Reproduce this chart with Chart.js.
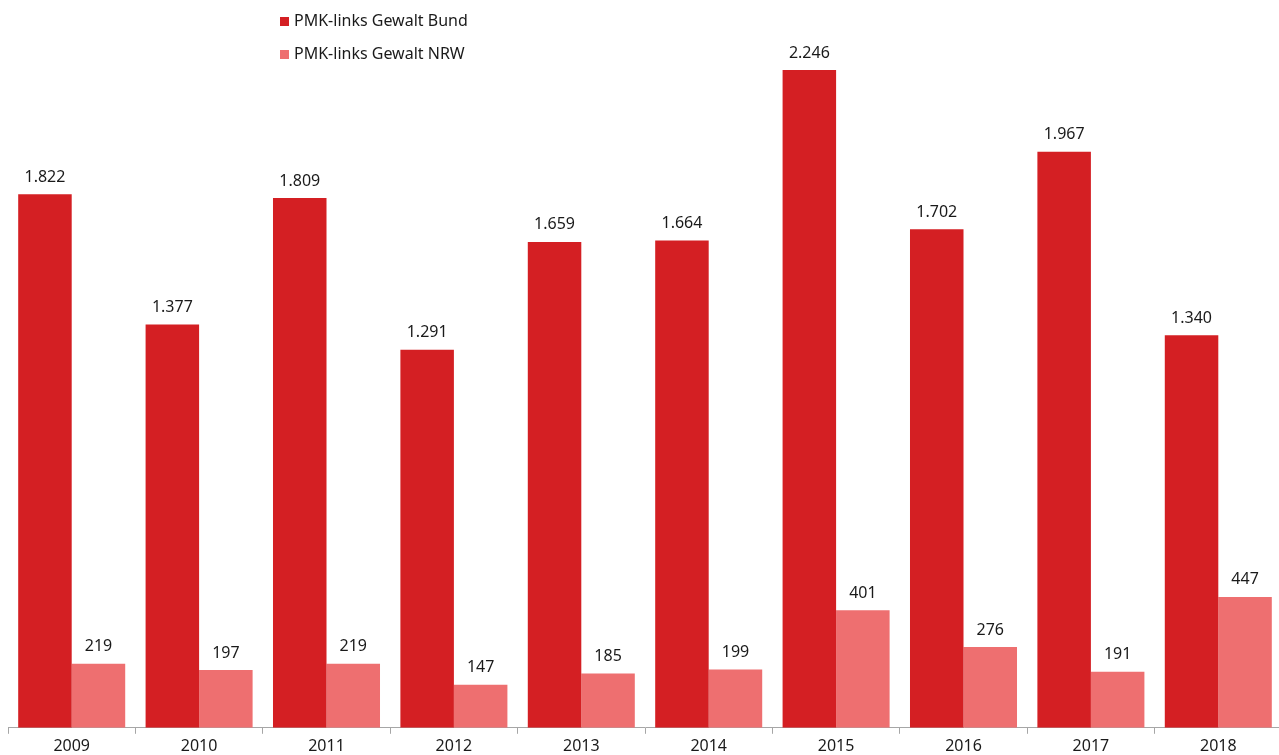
<!DOCTYPE html>
<html>
<head>
<meta charset="utf-8">
<script src="https://cdn.jsdelivr.net/npm/chart.js@4.4.1/dist/chart.umd.min.js"></script>
<style>
    html, body { margin: 0; padding: 0; background: #fff; }
    #wrap { position: relative; width: 1279px; height: 755px; overflow: hidden; }
    #legend { position: absolute; left: 280px; top: 10px; font-family: "Noto Sans", sans-serif; font-size: 16px; color: #1a1a1a; }
    #legend div { height: 21px; line-height: 21px; margin-bottom: 12px; }
    #legend span { display: inline-block; width: 9px; height: 9px; margin-right: 5px; vertical-align: 0px; }
</style>
</head>
<body>
<div id="wrap">
    <canvas id="chart" width="1284" height="755"></canvas>
    <div id="legend">
        <div><span style="background:#d41f23"></span>PMK-links Gewalt Bund</div>
        <div><span style="background:#ee6f70"></span>PMK-links Gewalt NRW</div>
    </div>
</div>
<script>
const years = ['2009', '2010', '2011', '2012', '2013', '2014', '2015', '2016', '2017', '2018'];
const bund = [1822, 1377, 1809, 1291, 1659, 1664, 2246, 1702, 1967, 1340];
const nrw = [219, 197, 219, 147, 185, 199, 401, 276, 191, 447];

// Werte über den Balken (deutsches Zahlenformat)
const valueLabels = {
    id: 'valueLabels',
    afterDatasetsDraw(chart) {
        const ctx = chart.ctx;
        ctx.save();
        ctx.font = '16px "Noto Sans", sans-serif';
        ctx.fillStyle = '#1a1a1a';
        ctx.textAlign = 'center';
        ctx.textBaseline = 'bottom';
        chart.data.datasets.forEach((ds, i) => {
            chart.getDatasetMeta(i).data.forEach((bar, j) => {
                ctx.fillText(ds.data[j].toLocaleString('de-DE'), bar.x, bar.y - 9);
            });
        });
        ctx.restore();
    }
};

new Chart(document.getElementById('chart').getContext('2d'), {
    type: 'bar',
    data: {
        labels: years,
        datasets: [{
            label: 'PMK-links Gewalt Bund',
            data: bund,
            backgroundColor: '#d41f23'
        }, {
            label: 'PMK-links Gewalt NRW',
            data: nrw,
            backgroundColor: '#ee6f70'
        }]
    },
    options: {
        responsive: false,
        animation: false,
        layout: { padding: { left: 8, right: 2, top: 0, bottom: -4 } },
        plugins: {
            legend: { display: false },
            tooltip: { enabled: false }
        },
        datasets: {
            bar: { categoryPercentage: 0.84, barPercentage: 1 }
        },
        scales: {
            x: {
                grid: { drawOnChartArea: false, color: '#a6a6a6', tickLength: 6, offset: true },
                border: { color: '#a6a6a6' },
                ticks: { color: '#1a1a1a', font: { family: '"Noto Sans", sans-serif', size: 16 }, padding: 3, maxRotation: 0 }
            },
            y: {
                display: false,
                min: 0,
                max: 2485
            }
        }
    },
    plugins: [valueLabels]
});
</script>
</body>
</html>
